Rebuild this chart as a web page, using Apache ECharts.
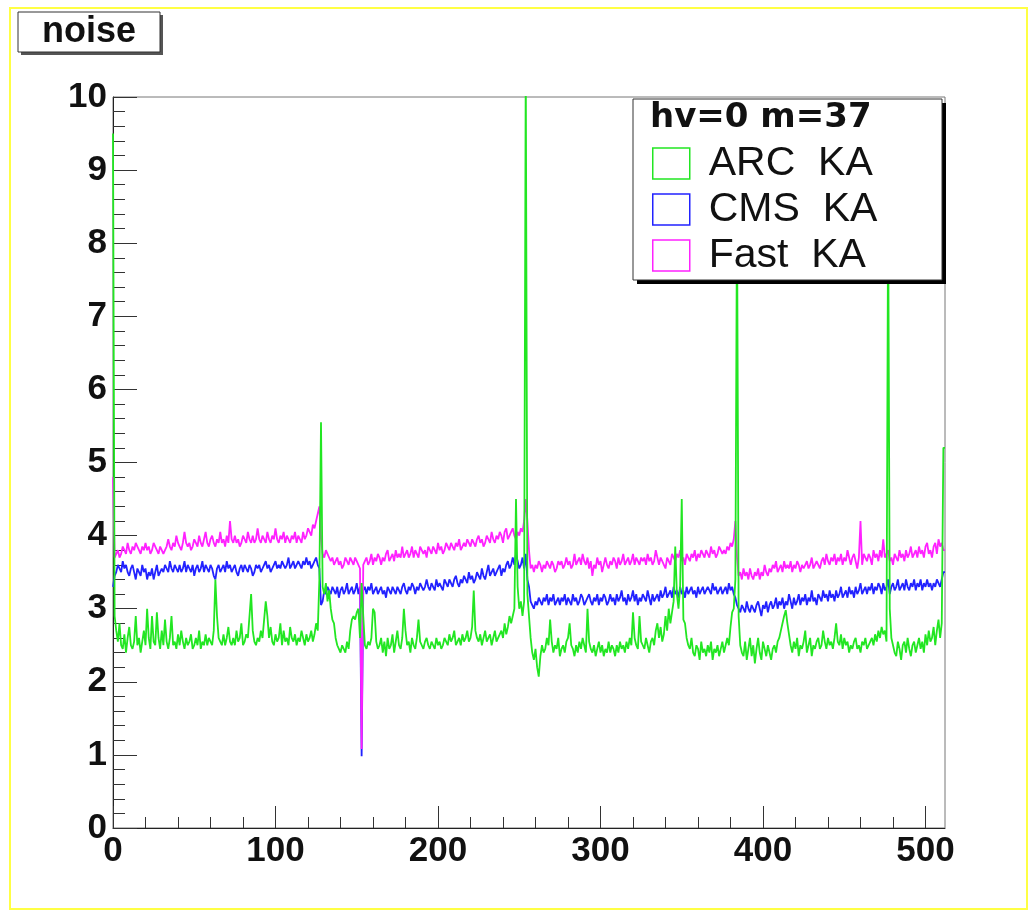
<!DOCTYPE html>
<html><head><meta charset="utf-8">
<script src="https://cdn.jsdelivr.net/npm/echarts@6/dist/echarts.min.js"></script>
<style>html,body{margin:0;padding:0;background:#fff}#c{width:1034px;height:913px}</style>
</head><body><div id="c"></div>
<script>
// ---- data (noise per channel, 512 channels, 4 blocks of 128) ----
const xMajorTicks = [0, 100, 200, 300, 400, 500];
const xMinorTicks = [20,40,60,80,120,140,160,180,220,240,260,280,320,340,360,380,420,440,460,480];
const seriesNames = ['ARC  KA', 'CMS  KA', 'Fast  KA'];
const headerText = 'hv=0 m=37';
const titleText = 'noise';

const arcKA = [
// block 1 (0-127)
9.5,
2.9,2.7,2.55,2.8,2.5,2.45,2.65,2.4,2.6,2.75,
2.5,2.45,2.55,2.9,2.5,2.6,2.4,2.55,2.7,2.5,
3.0,2.6,2.45,2.9,2.55,2.5,2.95,2.6,2.45,2.7,
2.5,2.85,2.55,2.45,2.6,2.9,2.5,2.55,2.45,2.65,
2.5,2.7,2.55,2.45,2.6,2.5,2.55,2.65,2.45,2.5,
2.6,2.5,2.7,2.45,2.55,2.5,2.65,2.5,2.6,2.55,
2.5,2.7,3.4,2.9,2.6,2.55,2.5,2.65,2.5,2.6,
2.75,2.55,2.5,2.6,2.5,2.7,2.55,2.6,2.8,2.5,
2.55,2.65,2.6,2.9,3.2,2.7,2.55,2.5,2.6,2.55,
2.7,2.6,2.85,3.1,2.9,2.6,2.75,2.55,2.5,2.65,
2.55,2.6,2.8,2.5,2.7,2.55,2.6,2.5,2.75,2.6,
2.55,2.65,2.5,2.6,2.55,2.7,2.6,2.5,2.65,2.55,
2.6,2.7,2.55,2.65,2.8,2.7,3.4,
// block 2 (128-255)
5.55,
3.3,3.2,3.35,3.1,3.25,3.0,2.85,
2.8,2.6,2.5,2.45,2.4,2.5,2.45,2.4,2.55,2.45,
2.7,2.85,2.9,2.85,2.95,3.0,2.6,3.35,2.9,2.5,
2.45,2.55,2.5,2.6,3.0,2.95,2.55,2.45,2.5,2.6,
2.4,2.55,2.35,2.6,2.45,2.5,2.65,2.4,2.55,2.7,
2.5,2.45,2.6,3.0,2.7,2.5,2.55,2.4,2.6,2.5,
2.45,2.6,2.85,2.55,2.5,2.45,2.55,2.6,2.5,2.45,
2.55,2.5,2.45,2.6,2.5,2.55,2.45,2.5,2.6,2.55,
2.5,2.65,2.55,2.6,2.7,2.5,2.55,2.6,2.5,2.65,
2.55,2.6,2.7,2.55,2.6,2.75,3.25,2.7,2.6,2.55,
2.65,2.5,2.6,2.7,2.55,2.6,2.65,2.5,2.6,2.7,
2.55,2.6,2.65,2.7,2.6,2.8,2.65,2.75,2.9,2.8,
2.9,3.0,4.5,3.3,3.0,3.1,2.9,3.1,10.5,3.2,
// block 3 (256-383)
2.9,2.6,2.4,2.3,2.45,2.2,2.07,2.35,2.5,2.4,
2.45,2.6,2.5,2.85,2.55,2.4,2.5,2.45,2.6,2.35,
2.45,2.5,2.4,2.55,2.6,2.8,2.5,2.45,2.35,2.5,
2.4,2.55,2.45,2.6,2.5,2.4,3.0,2.55,2.45,2.4,
2.5,2.35,2.45,2.55,2.4,2.5,2.35,2.45,2.4,2.55,
2.4,2.5,2.45,2.35,2.5,2.4,2.55,2.45,2.5,2.4,
2.55,2.45,2.6,2.5,2.95,2.6,2.5,2.45,2.9,2.55,
2.5,2.45,2.6,2.5,2.4,2.55,2.6,2.5,2.7,2.8,
2.6,2.75,2.55,2.65,2.9,2.7,3.0,2.8,2.95,3.1,
3.85,3.2,3.0,3.3,4.5,2.85,2.8,2.6,2.5,2.45,
2.6,2.4,2.35,2.5,2.45,2.3,2.55,2.4,2.45,2.35,
2.5,2.4,2.55,2.3,2.45,2.4,2.5,2.35,2.45,2.55,
2.4,2.5,2.6,2.5,2.75,2.95,3.0,3.4,
// block 4 (384-511)
8.5,
2.9,2.5,2.4,2.35,2.55,2.3,2.45,2.6,2.35,2.5,
2.25,2.45,2.6,2.4,2.3,2.55,2.45,2.35,2.5,2.4,
2.3,2.45,2.5,2.4,2.55,2.6,2.7,2.8,2.9,2.98,
2.8,2.65,2.5,2.4,2.55,2.45,2.6,2.35,2.5,2.45,
2.55,2.7,2.4,2.5,2.6,2.35,2.5,2.45,2.55,2.6,
2.45,2.5,2.7,2.55,2.45,2.6,2.5,2.55,2.45,2.6,
2.8,2.55,2.5,2.65,2.45,2.6,2.5,2.55,2.4,2.5,
2.45,2.55,2.6,2.45,2.5,2.4,2.55,2.5,2.6,2.45,
2.5,2.55,2.6,2.5,2.65,2.55,2.7,2.6,2.75,2.65,
2.7,2.55,8.5,3.0,2.6,2.5,2.4,2.35,2.55,2.45,
2.3,2.5,2.55,2.4,2.6,2.45,2.35,2.5,2.55,2.4,
2.5,2.6,2.45,2.55,2.4,2.65,2.5,2.7,2.55,2.6,
2.75,2.5,2.7,2.85,2.6,2.8,5.2
];

const cmsKA = [
// block 1
3.3,
3.45,3.5,3.6,3.55,3.5,3.65,3.55,3.6,3.5,3.45,
3.55,3.6,3.5,3.4,3.55,3.5,3.45,3.6,3.5,3.55,
3.4,3.5,3.45,3.55,3.4,3.5,3.6,3.45,3.5,3.55,
3.5,3.6,3.55,3.5,3.65,3.55,3.5,3.6,3.55,3.5,
3.6,3.5,3.55,3.65,3.5,3.6,3.55,3.5,3.6,3.45,
3.55,3.6,3.5,3.55,3.65,3.5,3.6,3.55,3.5,3.6,
3.55,3.45,3.4,3.55,3.6,3.5,3.55,3.6,3.5,3.65,
3.55,3.6,3.5,3.55,3.6,3.5,3.45,3.55,3.6,3.5,
3.6,3.55,3.5,3.6,3.55,3.45,3.5,3.6,3.55,3.6,
3.5,3.55,3.6,3.65,3.55,3.6,3.5,3.55,3.6,3.65,
3.55,3.6,3.55,3.65,3.6,3.55,3.6,3.7,3.55,3.6,
3.65,3.55,3.6,3.65,3.6,3.55,3.65,3.6,3.7,3.6,
3.65,3.55,3.6,3.65,3.7,3.6,3.55,
// block 2
3.05,
3.1,3.25,3.2,3.3,3.25,3.2,3.3,
3.25,3.2,3.3,3.15,3.25,3.3,3.2,3.25,3.35,3.2,
3.25,3.3,3.2,3.25,3.35,3.2,3.3,0.98,3.25,3.3,
3.2,3.3,3.25,3.35,3.2,3.25,3.3,3.2,3.25,3.3,
3.2,3.25,3.15,3.3,3.25,3.2,3.3,3.25,3.2,3.3,
3.25,3.2,3.3,3.35,3.25,3.2,3.3,3.25,3.35,3.3,
3.2,3.3,3.25,3.35,3.3,3.25,3.3,3.4,3.3,3.25,
3.35,3.3,3.25,3.4,3.3,3.35,3.3,3.25,3.4,3.35,
3.3,3.4,3.35,3.3,3.4,3.45,3.35,3.3,3.4,3.35,
3.45,3.4,3.35,3.5,3.4,3.45,3.35,3.4,3.5,3.45,
3.4,3.55,3.45,3.4,3.5,3.6,3.45,3.5,3.55,3.45,
3.5,3.55,3.6,3.45,3.55,3.5,3.6,3.65,3.55,3.6,
3.7,3.6,3.75,3.65,3.55,3.6,3.7,3.55,3.75,3.4,
// block 3
3.3,3.1,3.05,3.0,3.1,3.05,3.15,3.1,3.05,3.15,
3.1,3.2,3.05,3.15,3.1,3.2,3.05,3.1,3.15,3.05,
3.15,3.1,3.2,3.05,3.15,3.1,3.05,3.2,3.1,3.15,
3.05,3.1,3.2,3.15,3.05,3.1,3.15,3.2,3.1,3.05,
3.15,3.1,3.2,3.05,3.15,3.1,3.2,3.15,3.05,3.1,
3.2,3.1,3.15,3.05,3.2,3.1,3.15,3.25,3.1,3.15,
3.05,3.2,3.1,3.15,3.25,3.1,3.2,3.05,3.15,3.1,
3.2,3.15,3.1,3.25,3.15,3.05,3.2,3.1,3.15,3.2,
3.1,3.25,3.15,3.2,3.3,3.15,3.2,3.25,3.15,3.3,
3.2,3.25,3.15,3.3,3.2,3.25,3.15,3.3,3.2,3.25,
3.3,3.2,3.25,3.15,3.3,3.2,3.25,3.3,3.2,3.25,
3.3,3.25,3.2,3.35,3.25,3.3,3.2,3.25,3.3,3.2,
3.25,3.3,3.2,3.35,3.25,3.3,3.2,3.15,
// block 4
3.05,
3.0,2.95,3.05,3.0,2.95,3.1,3.0,2.95,3.05,3.0,
2.95,3.05,3.1,3.0,2.9,3.05,3.0,3.1,2.95,3.05,
3.1,3.0,3.05,3.15,3.0,3.1,3.05,3.15,3.0,3.1,
3.05,3.2,3.1,3.0,3.15,3.05,3.1,3.2,3.05,3.15,
3.1,3.2,3.05,3.15,3.1,3.25,3.1,3.15,3.05,3.2,
3.15,3.1,3.25,3.15,3.2,3.1,3.25,3.15,3.2,3.1,
3.25,3.15,3.2,3.3,3.15,3.2,3.25,3.15,3.3,3.2,
3.25,3.15,3.3,3.2,3.25,3.35,3.2,3.25,3.3,3.2,
3.3,3.25,3.35,3.2,3.3,3.25,3.35,3.3,3.2,3.35,
3.25,3.3,3.4,3.2,3.3,3.35,3.25,3.3,3.4,3.25,
3.3,3.35,3.25,3.4,3.3,3.25,3.35,3.3,3.4,3.25,
3.35,3.3,3.4,3.25,3.35,3.3,3.4,3.3,3.35,3.25,
3.35,3.3,3.4,3.35,3.3,3.4,3.5
];

const fastKA = [
// block 1
4.8,
3.7,3.75,3.8,3.7,3.75,3.85,3.8,3.75,3.9,3.8,
3.75,3.85,3.8,3.9,3.85,3.8,3.75,3.85,3.8,3.9,
3.8,3.85,3.75,3.8,3.9,3.85,3.8,3.75,3.85,3.8,
3.75,3.8,3.85,3.95,3.85,3.8,3.9,3.85,4.0,3.9,
3.85,3.8,3.9,4.05,3.9,3.85,3.9,3.8,3.85,3.95,
3.9,3.85,4.0,3.9,3.85,3.95,4.05,3.9,3.85,3.95,
4.0,3.9,3.85,3.95,3.9,4.05,3.9,3.95,3.85,4.0,
3.9,4.2,3.95,3.9,4.0,3.9,3.95,3.85,3.9,4.0,
3.95,3.9,4.05,3.95,3.9,4.0,3.9,3.95,4.1,3.95,
3.9,4.0,3.95,3.9,4.05,3.95,3.9,4.0,3.95,4.1,
3.95,3.9,4.0,3.95,4.05,3.9,4.0,3.95,3.9,4.0,
3.95,4.05,3.9,4.0,3.95,3.9,4.05,3.95,4.0,4.1,
4.05,4.0,4.15,4.1,4.2,4.3,4.4,
// block 2
3.95,
3.75,3.7,3.8,3.75,3.7,3.65,3.7,
3.6,3.65,3.7,3.6,3.65,3.55,3.6,3.7,3.65,3.6,
3.7,3.65,3.6,3.7,3.65,3.6,3.55,1.08,3.6,3.65,
3.7,3.6,3.65,3.75,3.6,3.7,3.65,3.75,3.7,3.6,
3.7,3.65,3.75,3.8,3.65,3.7,3.75,3.65,3.8,3.7,
3.75,3.7,3.85,3.7,3.75,3.8,3.7,3.75,3.85,3.7,
3.8,3.75,3.7,3.85,3.8,3.75,3.8,3.7,3.85,3.8,
3.75,3.85,3.8,3.75,3.9,3.8,3.85,3.75,3.8,3.9,
3.85,3.8,3.9,3.85,3.8,3.9,3.85,3.95,3.8,3.85,
3.9,3.85,3.95,3.9,3.85,3.95,3.9,3.85,3.95,4.0,
3.9,3.95,3.85,3.9,4.0,3.95,3.9,4.05,3.95,3.9,
4.0,3.95,4.05,4.0,3.9,4.05,4.1,3.95,4.0,4.05,
4.1,4.0,3.95,4.05,4.0,4.1,4.05,4.2,4.5,4.2,
// block 3
3.8,3.55,3.6,3.5,3.6,3.55,3.65,3.6,3.5,3.6,
3.55,3.65,3.6,3.55,3.65,3.6,3.5,3.55,3.65,3.6,
3.65,3.55,3.6,3.7,3.6,3.65,3.55,3.6,3.75,3.6,
3.65,3.7,3.6,3.75,3.65,3.6,3.7,3.55,3.65,3.45,
3.6,3.55,3.7,3.6,3.65,3.5,3.6,3.7,3.6,3.55,
3.65,3.6,3.7,3.65,3.55,3.7,3.6,3.65,3.75,3.6,
3.65,3.7,3.6,3.65,3.75,3.6,3.7,3.65,3.6,3.7,
3.65,3.7,3.6,3.75,3.65,3.7,3.6,3.65,3.8,3.7,
3.6,3.7,3.65,3.6,3.55,3.7,3.65,3.6,3.75,3.7,
3.65,3.75,3.7,3.8,3.65,3.7,3.6,3.75,3.7,3.65,
3.75,3.7,3.8,3.65,3.75,3.7,3.8,3.75,3.7,3.8,
3.75,3.7,3.85,3.75,3.8,3.7,3.75,3.85,3.8,3.75,
3.8,3.75,3.85,3.8,3.9,3.85,3.95,4.2,
// block 4
3.7,
3.45,3.5,3.4,3.55,3.45,3.5,3.4,3.55,3.45,3.4,
3.5,3.45,3.55,3.4,3.5,3.45,3.6,3.5,3.45,3.55,
3.5,3.6,3.55,3.65,3.5,3.55,3.6,3.5,3.65,3.55,
3.6,3.55,3.65,3.5,3.6,3.55,3.65,3.6,3.5,3.6,
3.55,3.6,3.65,3.55,3.6,3.7,3.55,3.6,3.65,3.6,
3.55,3.65,3.7,3.6,3.75,3.65,3.6,3.7,3.65,3.75,
3.6,3.7,3.65,3.75,3.6,3.7,3.65,3.8,3.7,3.6,
3.7,3.75,3.65,3.55,3.7,4.2,3.6,3.75,3.7,3.65,
3.75,3.7,3.6,3.8,3.7,3.75,3.65,3.8,3.7,3.95,
3.7,3.75,3.8,3.65,3.7,3.6,3.75,3.7,3.65,3.8,
3.7,3.75,3.65,3.8,3.7,3.75,3.85,3.7,3.75,3.8,
3.7,3.85,3.75,3.8,3.7,3.85,3.9,3.75,3.8,3.7,
3.85,3.9,3.75,3.95,3.85,3.9,3.8
];

console.log('lengths', arcKA.length, cmsKA.length, fastKA.length);

const colArc = '#22e622', colCms = '#2222ff', colFast = '#ff22ff';
const toSteps = arr => arr.map((v, i) => [i, v]).concat([[arr.length, arr[arr.length - 1]]]);

const chart = echarts.init(document.getElementById('c'), null, {renderer: 'canvas', width: 1034, height: 913});
const labelFont = {fontSize: 35, fontWeight: 'bold', fontFamily: '"Liberation Sans", Arial, sans-serif', color: '#111'};

const option = {
  backgroundColor: '#ffffff',
  animation: false,
  grid: {left: 113, top: 97, width: 832, height: 731, show: true, borderColor: '#777', borderWidth: 1, containLabel: false},
  xAxis: [
    {type: 'value', min: 0, max: 512, interval: 100,
     axisLine: {show: true, onZero: false, lineStyle: {color: '#222', width: 1}},
     axisTick: {show: true, inside: true, length: 22, customValues: xMajorTicks, lineStyle: {color: '#333'}},
     splitLine: {show: false},
     axisLabel: Object.assign({margin: 6, customValues: xMajorTicks}, labelFont)},
    {type: 'value', min: 0, max: 512, gridIndex: 0, position: 'bottom',
     axisLine: {show: false},
     axisTick: {show: true, inside: true, length: 11, customValues: xMinorTicks, lineStyle: {color: '#333'}},
     axisLabel: {show: false}, splitLine: {show: false}}
  ],
  yAxis: {type: 'value', min: 0, max: 10, interval: 1,
    axisLine: {show: true, onZero: false, lineStyle: {color: '#222', width: 1}},
    axisTick: {show: true, inside: true, length: 24, lineStyle: {color: '#333'}},
    minorTick: {show: true, splitNumber: 5, length: 12, lineStyle: {color: '#333'}},
    splitLine: {show: false}, minorSplitLine: {show: false},
    axisLabel: Object.assign({margin: 6}, labelFont)},
  legend: {
    show: true, orient: 'vertical', left: 652, top: 143, itemWidth: 37, itemHeight: 31, itemGap: 5,
    padding: 0, z: 60, selectedMode: false,
    textStyle: {fontSize: 41, fontFamily: '"Liberation Sans", Arial, sans-serif', color: '#111', padding: [0, 0, 0, 14]},
    data: [
      {name: seriesNames[0], icon: 'rect', itemStyle: {color: '#fff', borderColor: colArc, borderWidth: 1.5}},
      {name: seriesNames[1], icon: 'rect', itemStyle: {color: '#fff', borderColor: colCms, borderWidth: 1.5}},
      {name: seriesNames[2], icon: 'rect', itemStyle: {color: '#fff', borderColor: colFast, borderWidth: 1.5}}
    ]
  },
  series: [
    {name: seriesNames[0], type: 'line', step: 'end', data: toSteps(arcKA), symbol: 'none', showSymbol: false,
     lineStyle: {color: colArc, width: 1.8}, itemStyle: {color: colArc}, z: 5, silent: true, clip: true},
    {name: seriesNames[1], type: 'line', step: 'end', data: toSteps(cmsKA), symbol: 'none', showSymbol: false,
     lineStyle: {color: colCms, width: 1.8}, itemStyle: {color: colCms}, z: 3, silent: true, clip: true},
    {name: seriesNames[2], type: 'line', step: 'end', data: toSteps(fastKA), symbol: 'none', showSymbol: false,
     lineStyle: {color: colFast, width: 1.8}, itemStyle: {color: colFast}, z: 4, silent: true, clip: true}
  ],
  graphic: [
    {type: 'rect', z: 1, silent: true, shape: {x: 10, y: 8, width: 1017, height: 901}, style: {fill: 'none', stroke: '#ffff44', lineWidth: 2}},
    {type: 'rect', z: 50, silent: true, shape: {x: 21, y: 15, width: 142, height: 40}, style: {fill: '#555'}},
    {type: 'rect', z: 51, silent: true, shape: {x: 18, y: 12, width: 142, height: 40}, style: {fill: '#fff', stroke: '#333', lineWidth: 1}},
    {type: 'text', z: 52, silent: true, x: 89, y: 32, style: {text: titleText, fontSize: 36, fontWeight: 'bold', fontFamily: '"Liberation Sans", Arial, sans-serif', fill: '#111', align: 'center', verticalAlign: 'middle'}},
    {type: 'rect', z: 50, silent: true, shape: {x: 637, y: 103, width: 309, height: 181}, style: {fill: '#000'}},
    {type: 'rect', z: 51, silent: true, shape: {x: 633, y: 99, width: 309, height: 181}, style: {fill: '#fff', stroke: '#333', lineWidth: 1}},
    {type: 'text', z: 52, silent: true, x: 650, y: 118, style: {text: headerText, fontSize: 34, fontWeight: 'bold', fontFamily: '"DejaVu Sans", sans-serif', fill: '#111', align: 'left', verticalAlign: 'middle'}}
  ]
};
chart.setOption(option);
</script>
</body></html>
